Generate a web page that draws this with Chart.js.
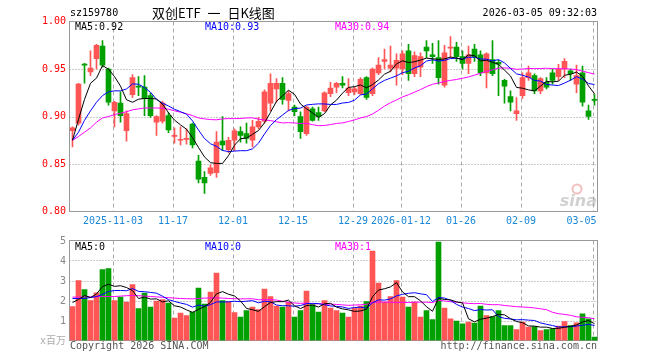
<!DOCTYPE html>
<html>
<head>
<meta charset="utf-8">
<script src="https://cdn.jsdelivr.net/npm/chart.js@4"></script>
<style>
body { margin: 0; background: #fff; }
#wrap { position: relative; width: 660px; height: 360px; overflow: hidden; font-family: "DejaVu Sans Mono", "Noto Sans CJK SC", monospace; font-size: 10px; }
#wrap canvas { position: absolute; left: 0; }
.t { position: absolute; white-space: nowrap; line-height: 12px; }
</style>
</head>
<body>
<div id="wrap">
  <canvas id="priceChart" width="660" height="232" style="top:0"></canvas>
  <canvas id="volChart" width="660" height="130" style="top:230px"></canvas>

  <div class="t" style="left:70px;top:7px;">sz159780</div>
  <div class="t" style="left:152px;top:5px;font-family:'Noto Sans CJK SC';font-size:13px;line-height:16px;word-spacing:4px;">双创ETF 一 日K线图</div>
  <div class="t" style="right:63px;top:7px;">2026-03-05 09:32:03</div>

  <div class="t" style="left:75px;top:21px;color:#000;">MA5:0.92</div>
  <div class="t" style="left:205px;top:21px;color:#0000ff;">MA10:0.93</div>
  <div class="t" style="left:335px;top:21px;color:#ff00ff;">MA30:0.94</div>

  <div class="t" style="left:75px;top:241px;color:#000;">MA5:0</div>
  <div class="t" style="left:205px;top:241px;color:#0000ff;">MA10:0</div>
  <div class="t" style="left:335px;top:241px;color:#ff00ff;">MA30:1</div>

  <div class="t" style="left:40px;top:335px;color:#aaa;">x百万</div>
  <div class="t" style="left:70px;top:340px;color:#555;">Copyright 2026 SINA.COM</div>
  <div class="t" style="right:63px;top:340px;color:#555;">http://finance.sina.com.cn</div>
</div>

<script>
// trading days shown on the chart
const dates = [
  '2025-10-23','2025-10-24','2025-10-27','2025-10-28','2025-10-29','2025-10-30','2025-10-31',
  '2025-11-03','2025-11-04','2025-11-05','2025-11-06','2025-11-07',
  '2025-11-10','2025-11-11','2025-11-12','2025-11-13','2025-11-14',
  '2025-11-17','2025-11-18','2025-11-19','2025-11-20','2025-11-21',
  '2025-11-24','2025-11-25','2025-11-26','2025-11-27','2025-11-28',
  '2025-12-01','2025-12-02','2025-12-03','2025-12-04','2025-12-05',
  '2025-12-08','2025-12-09','2025-12-10','2025-12-11','2025-12-12',
  '2025-12-15','2025-12-16','2025-12-17','2025-12-18','2025-12-19',
  '2025-12-22','2025-12-23','2025-12-24','2025-12-25','2025-12-26',
  '2025-12-29','2025-12-30','2025-12-31',
  '2026-01-05','2026-01-06','2026-01-07','2026-01-08','2026-01-09',
  '2026-01-12','2026-01-13','2026-01-14','2026-01-15','2026-01-16',
  '2026-01-19','2026-01-20','2026-01-21','2026-01-22','2026-01-23',
  '2026-01-26','2026-01-27','2026-01-28','2026-01-29','2026-01-30',
  '2026-02-02','2026-02-03','2026-02-04','2026-02-05','2026-02-06',
  '2026-02-09','2026-02-10','2026-02-11','2026-02-12','2026-02-13',
  '2026-02-24','2026-02-25','2026-02-26','2026-02-27',
  '2026-03-02','2026-03-03','2026-03-04','2026-03-05'
];

const opens = [
  0.885,0.893,0.955,0.947,0.961,0.974,0.950,0.906,0.914,0.885,
  0.923,0.932,0.931,0.922,0.894,0.895,0.901,0.879,0.875,0.876,
  0.892,0.853,0.836,0.840,0.841,0.874,0.865,0.875,0.884,0.882,
  0.875,0.889,0.895,0.914,0.929,0.935,0.917,0.910,0.900,0.882,
  0.908,0.904,0.906,0.924,0.931,0.935,0.925,0.926,0.924,0.941,
  0.924,0.946,0.958,0.951,0.951,0.950,0.969,0.945,0.952,0.973,
  0.965,0.962,0.933,0.972,0.973,0.963,0.956,0.971,0.965,0.946,
  0.960,0.957,0.938,0.921,0.903,0.922,0.941,0.943,0.927,0.936,
  0.946,0.942,0.950,0.948,0.934,0.946,0.906,0.918
];
const highs = [
  0.889,0.935,0.956,0.969,0.976,0.980,0.951,0.916,0.926,0.906,
  0.944,0.942,0.943,0.925,0.901,0.916,0.904,0.888,0.889,0.887,
  0.893,0.859,0.842,0.849,0.884,0.900,0.878,0.887,0.889,0.893,
  0.896,0.899,0.928,0.945,0.940,0.941,0.927,0.912,0.905,0.911,
  0.910,0.910,0.926,0.936,0.936,0.942,0.940,0.931,0.941,0.942,
  0.951,0.962,0.971,0.974,0.966,0.969,0.976,0.968,0.967,0.980,
  0.977,0.980,0.975,0.984,0.978,0.969,0.974,0.976,0.969,0.967,
  0.980,0.959,0.939,0.927,0.920,0.946,0.953,0.945,0.941,0.941,
  0.950,0.955,0.961,0.950,0.954,0.953,0.912,0.923
];
const lows = [
  0.868,0.891,0.935,0.943,0.950,0.952,0.912,0.889,0.894,0.874,
  0.920,0.922,0.901,0.899,0.880,0.893,0.883,0.872,0.870,0.871,
  0.867,0.830,0.819,0.838,0.836,0.864,0.862,0.864,0.873,0.872,
  0.868,0.887,0.893,0.906,0.915,0.913,0.906,0.901,0.877,0.880,
  0.895,0.896,0.905,0.921,0.925,0.930,0.922,0.923,0.923,0.918,
  0.922,0.944,0.950,0.947,0.933,0.944,0.938,0.942,0.942,0.962,
  0.956,0.934,0.931,0.962,0.958,0.950,0.945,0.958,0.943,0.930,
  0.943,0.922,0.914,0.906,0.896,0.919,0.938,0.924,0.924,0.929,
  0.934,0.938,0.941,0.938,0.925,0.911,0.897,0.912
];
const closes = [
  0.888,0.934,0.954,0.951,0.975,0.954,0.915,0.915,0.901,0.903,
  0.941,0.931,0.919,0.901,0.900,0.914,0.886,0.880,0.876,0.877,
  0.870,0.834,0.830,0.846,0.873,0.870,0.875,0.885,0.880,0.877,
  0.889,0.895,0.926,0.935,0.935,0.918,0.924,0.905,0.884,0.910,
  0.896,0.900,0.925,0.930,0.935,0.933,0.930,0.929,0.939,0.920,
  0.950,0.954,0.960,0.954,0.959,0.966,0.945,0.964,0.963,0.969,
  0.963,0.941,0.967,0.973,0.963,0.956,0.965,0.963,0.946,0.966,
  0.945,0.955,0.932,0.915,0.906,0.941,0.946,0.927,0.940,0.931,
  0.938,0.950,0.958,0.945,0.943,0.915,0.900,0.917
];
// volume, millions of shares
const volumes = [
  1.70,3.00,2.55,2.00,2.38,3.55,3.60,2.00,2.17,1.92,
  2.80,1.60,2.37,1.67,1.97,2.05,1.87,1.12,1.37,1.25,
  1.42,2.62,1.82,2.42,3.37,2.00,1.95,1.40,1.17,1.50,
  1.67,1.55,2.57,2.20,1.72,1.67,1.92,1.17,1.50,2.47,
  1.80,1.42,2.00,1.62,1.50,1.37,1.17,1.62,1.72,1.95,
  4.47,2.87,1.92,2.20,3.00,2.17,1.67,1.92,1.17,1.50,
  1.05,4.92,1.62,1.08,0.97,0.83,0.92,0.87,1.72,1.25,
  1.20,1.50,0.75,0.75,0.55,0.92,0.67,0.70,0.50,0.55,
  0.58,0.72,0.95,0.75,0.88,1.33,1.08,0.17
];

// MA values before a full window exists depend on earlier history
const priceMa5Head = [0.875,0.897,0.918,0.935];
const priceMa10Head = [0.875,0.8835,0.896,0.906,0.915,0.922,0.926,0.927,0.927];
const priceMa30Head = [
  0.875,0.879,0.8835,0.888,0.894,0.8985,0.900,0.902,0.9035,0.905,
  0.907,0.908,0.909,0.909,0.909,0.9087,0.9077,0.906,0.9045,0.9028,
  0.901,0.8985,0.8975,0.8968,0.8965,0.8975,0.8978,0.8978,0.8978
];
const volMa5Head = [1.90,2.05,2.25,2.15];
const volMa10Head = [2.10,2.10,2.10,2.15,2.20,2.30,2.45,2.50,2.50];
const volMa30Head = [
  2.17,2.17,2.18,2.18,2.19,2.20,2.20,2.20,2.22,2.24,
  2.25,2.24,2.22,2.20,2.18,2.16,2.14,2.12,2.10,2.09,
  2.08,2.10,2.12,2.13,2.13,2.12,2.10,2.09,2.08
];

const priceTicks = [1.00, 0.95, 0.90, 0.85, 0.80];
const volTicks = [5, 4, 3, 2, 1, 0];
const tickIndex = [7, 17, 27, 37, 47, 55, 65, 75, 87];

const UP = '#ff5555';
const DOWN = '#00a000';

const movingAverage = (values, n, head) => values.map((v, i) => {
  if (i < n - 1) return head[i];
  let s = 0;
  for (let j = i - n + 1; j <= i; j++) s += values[j];
  return s / n;
});

const candleColors = closes.map((c, i) => c >= opens[i] ? UP : DOWN);
const bodies = opens.map((o, i) => [o, closes[i]]);
const wicks = lows.map((l, i) => [l, highs[i]]);

const tickText = (k) => {
  const d = dates[tickIndex[k]];
  if (k === 0 || d.slice(0, 4) !== dates[tickIndex[k - 1]].slice(0, 4)) return d;
  return d.slice(5);
};

const FONT = '10px "DejaVu Sans Mono"';

const panel = (cfg) => ({
  id: 'panel_' + cfg.name,
  beforeDatasetsDraw(chart) {
    const ctx = chart.ctx;
    const a = chart.chartArea;
    const x = chart.scales.x;
    const y = chart.scales.y;
    ctx.save();
    ctx.lineWidth = 1;

    if (cfg.watermark) {
      ctx.strokeStyle = 'rgba(235,150,150,0.6)';
      ctx.lineWidth = 2;
      ctx.beginPath();
      ctx.arc(577, 189, 4.5, 0, Math.PI * 2);
      ctx.stroke();
      ctx.lineWidth = 1;
      ctx.fillStyle = 'rgba(190,190,190,0.7)';
      ctx.font = 'italic bold 16px "DejaVu Sans"';
      ctx.textAlign = 'right';
      ctx.textBaseline = 'alphabetic';
      ctx.fillText('sina', 597, 206);
    }

    // dotted level lines
    ctx.strokeStyle = '#999';
    ctx.setLineDash([1, 2]);
    cfg.ticks.forEach(v => {
      if (v === y.max || v === y.min) return;
      const py = Math.round(y.getPixelForValue(v)) + 0.5;
      ctx.beginPath();
      ctx.moveTo(a.left, py);
      ctx.lineTo(a.right, py);
      ctx.stroke();
    });

    // dashed date lines
    ctx.strokeStyle = '#aaa';
    ctx.setLineDash([4, 3]);
    tickIndex.forEach(i => {
      const px = Math.round(x.getPixelForValue(i) - 1.5) + 0.5;
      ctx.beginPath();
      ctx.moveTo(px, a.top);
      ctx.lineTo(px, a.bottom);
      ctx.stroke();
    });

    ctx.setLineDash([]);
    ctx.strokeStyle = '#999';
    ctx.strokeRect(a.left, a.top, a.right - a.left, a.bottom - a.top);

    // value labels
    ctx.font = FONT;
    ctx.fillStyle = cfg.labelColor;
    ctx.textAlign = 'right';
    ctx.textBaseline = 'middle';
    cfg.ticks.forEach(v => {
      if (cfg.hideZero && v === 0) return;
      ctx.fillText(v.toFixed(cfg.decimals), 66, y.getPixelForValue(v) + cfg.labelShift);
    });
    ctx.restore();
  },
  afterDraw(chart) {
    if (!cfg.dateLabels) return;
    const ctx = chart.ctx;
    const a = chart.chartArea;
    const x = chart.scales.x;
    ctx.save();
    ctx.font = FONT;
    ctx.fillStyle = '#1a88d8';
    ctx.textAlign = 'center';
    ctx.textBaseline = 'middle';
    tickIndex.forEach((idx, k) => {
      const text = tickText(k);
      const w = ctx.measureText(text).width;
      let cx = x.getPixelForValue(idx) - 1.5;
      if (cx + w / 2 > a.right - 1) cx = a.right - 1 - w / 2;
      ctx.fillText(text, cx, 221);
    });
    ctx.restore();
  }
});

const lineSet = (data, color) => ({
  type: 'line',
  data: data,
  borderColor: color,
  borderWidth: 1,
  pointRadius: 0,
  tension: 0,
  fill: false,
  order: 0
});

const baseOptions = (padding, min, max) => ({
  responsive: false,
  animation: false,
  events: [],
  layout: { padding: padding },
  plugins: { legend: { display: false }, tooltip: { enabled: false } },
  scales: {
    x: { type: 'category', display: false, offset: true },
    y: { display: false, min: min, max: max }
  }
});

new Chart(document.getElementById('priceChart'), {
  data: {
    labels: dates,
    datasets: [
      lineSet(movingAverage(closes, 5, priceMa5Head), '#000000'),
      lineSet(movingAverage(closes, 10, priceMa10Head), '#0000ff'),
      lineSet(movingAverage(closes, 30, priceMa30Head), '#ff00ff'),
      {
        type: 'bar', data: bodies, backgroundColor: candleColors,
        barThickness: 5, minBarLength: 1, grouped: false, borderWidth: 0, order: 1
      },
      {
        type: 'bar', data: wicks, backgroundColor: candleColors,
        barThickness: 1, grouped: false, borderWidth: 0, order: 2
      }
    ]
  },
  options: baseOptions({ left: 69.5, right: 62.5, top: 21.5, bottom: 20.5 }, 0.80, 1.00),
  plugins: [panel({ name: 'price', ticks: priceTicks, decimals: 2, labelColor: '#ff0000', labelShift: 0, watermark: true, dateLabels: true })]
});

new Chart(document.getElementById('volChart'), {
  data: {
    labels: dates,
    datasets: [
      lineSet(movingAverage(volumes, 5, volMa5Head), '#000000'),
      lineSet(movingAverage(volumes, 10, volMa10Head), '#0000ff'),
      lineSet(movingAverage(volumes, 30, volMa30Head), '#ff00ff'),
      {
        type: 'bar', data: volumes, backgroundColor: candleColors,
        barThickness: 5, grouped: false, borderWidth: 0, order: 1
      }
    ]
  },
  options: baseOptions({ left: 69.5, right: 62.5, top: 10.5, bottom: 19.5 }, 0, 5),
  plugins: [panel({ name: 'vol', ticks: volTicks, decimals: 0, labelColor: '#888', labelShift: 1, hideZero: true })]
});
</script>
</body>
</html>
